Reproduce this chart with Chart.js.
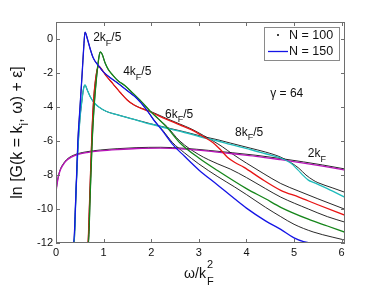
<!DOCTYPE html>
<html>
<head>
<meta charset="utf-8">
<script src="https://cdn.jsdelivr.net/npm/chart.js@4.4.0/dist/chart.umd.min.js"></script>
<style>
  html, body { margin: 0; padding: 0; background: #fff; }
  #wrap { width: 382px; height: 286px; }
</style>
</head>
<body>
<div id="wrap"><canvas id="c" width="382" height="286"></canvas></div>
<script>
/* ===== data ===== */
const xTicks = [0, 1, 2, 3, 4, 5, 6];
const yTicks = [0, -2, -4, -6, -8, -10, -12];

// N = 150 (coloured curves)
const k2_5_n150 = [[0,-12],[0.37,-12],[0.42,-9],[0.46,-6],[0.5,-4.2],[0.55,-2],[0.58,-0.6],[0.61,0.4],[0.66,0],[0.72,-0.6],[0.78,-1.1],[0.9,-1.6],[1.0,-1.95],[1.15,-2.3],[1.3,-2.6],[1.5,-3.05],[1.7,-3.5],[1.9,-4.15],[2.05,-4.75],[2.25,-5.45],[2.45,-6.2],[2.7,-6.9],[3.0,-7.7],[3.4,-8.6],[3.75,-9.4],[4.0,-9.95],[4.4,-10.7],[4.72,-11.2],[5.0,-11.7],[5.2,-11.92],[5.4,-12],[6.1,-12]];
const k4_5_n150 = [[0,-12],[0.68,-12],[0.72,-9],[0.76,-6],[0.8,-4],[0.85,-2.3],[0.9,-1.1],[0.93,-0.76],[0.97,-0.9],[1.03,-1.4],[1.1,-1.8],[1.2,-2.15],[1.3,-2.45],[1.45,-2.75],[1.62,-3.2],[1.8,-3.7],[1.98,-4.25],[2.15,-4.7],[2.33,-5.2],[2.6,-6.1],[3.0,-7.0],[3.4,-7.75],[4.0,-8.8],[4.4,-9.4],[4.72,-9.9],[5.3,-10.6],[5.7,-11.0],[6.1,-11.4]];
const k6_5_n150 = [[0,-12],[0.67,-12],[0.7,-10],[0.73,-7.5],[0.76,-5.2],[0.79,-3.6],[0.83,-2.4],[0.87,-1.75],[0.9,-1.6],[0.95,-1.75],[1.05,-2.15],[1.2,-2.65],[1.35,-3.15],[1.5,-3.6],[1.65,-3.9],[1.8,-4.1],[1.95,-4.25],[2.3,-4.7],[2.6,-5.05],[2.85,-5.35],[3.1,-5.75],[3.3,-6.1],[3.45,-6.5],[3.6,-6.95],[3.75,-7.25],[3.95,-7.55],[4.3,-8.2],[4.72,-8.9],[5.1,-9.3],[5.5,-9.75],[6.1,-10.4]];
const k8_5_n150 = [[0,-12],[0.38,-12],[0.42,-9],[0.46,-6.5],[0.5,-4.8],[0.55,-3.5],[0.58,-2.9],[0.61,-2.7],[0.65,-2.95],[0.72,-3.4],[0.8,-3.75],[0.9,-4.0],[1.05,-4.25],[1.28,-4.45],[1.6,-4.7],[1.98,-5.0],[2.33,-5.25],[2.7,-5.5],[3.03,-5.75],[3.4,-6.0],[3.66,-6.2],[4.08,-6.5],[4.4,-6.75],[4.72,-7.0],[4.93,-7.3],[5.08,-7.7],[5.2,-8.05],[5.3,-8.3],[5.42,-8.45],[5.7,-8.8],[6.1,-9.35]];
const k2_n150 = [[0,-9.0],[0.02,-8.6],[0.05,-8.1],[0.1,-7.65],[0.15,-7.4],[0.22,-7.15],[0.32,-6.95],[0.45,-6.8],[0.65,-6.68],[0.93,-6.58],[1.3,-6.5],[1.7,-6.44],[2.2,-6.42],[2.7,-6.48],[3.2,-6.6],[3.7,-6.75],[4.2,-6.9],[4.72,-7.1],[5.2,-7.3],[5.6,-7.48],[6.1,-7.73]];

// N = 100 (black curves)
const k2_5_n100 = [[0,-12],[0.37,-12],[0.42,-9],[0.46,-6],[0.5,-4.2],[0.55,-2],[0.58,-0.6],[0.61,0.4],[0.66,0],[0.72,-0.6],[0.78,-1.1],[0.9,-1.6],[1.0,-1.95],[1.15,-2.3],[1.3,-2.6],[1.5,-3.05],[1.7,-3.5],[1.9,-4.15],[2.05,-4.75],[2.25,-5.4],[2.45,-6.1],[2.7,-6.7],[3.0,-7.35],[3.4,-8.1],[3.75,-8.7],[4.0,-9.15],[4.4,-9.9],[4.72,-10.45],[5.0,-10.9],[5.4,-11.35],[5.8,-11.65],[6.1,-11.85]];
const k4_5_n100 = [[0,-12],[0.68,-12],[0.72,-9],[0.76,-6],[0.8,-4],[0.85,-2.3],[0.9,-1.1],[0.93,-0.76],[0.97,-0.9],[1.03,-1.4],[1.1,-1.8],[1.2,-2.15],[1.3,-2.45],[1.45,-2.75],[1.62,-3.2],[1.8,-3.7],[1.98,-4.25],[2.15,-4.7],[2.33,-5.15],[2.6,-6.0],[3.0,-6.8],[3.4,-7.35],[3.66,-7.65],[4.0,-8.15],[4.4,-8.8],[4.72,-9.3],[5.3,-10.0],[5.7,-10.45],[6.1,-10.8]];
const k6_5_n100 = [[0,-12],[0.67,-12],[0.7,-10],[0.73,-7.5],[0.76,-5.2],[0.79,-3.6],[0.83,-2.4],[0.87,-1.75],[0.9,-1.6],[0.95,-1.75],[1.05,-2.15],[1.2,-2.65],[1.35,-3.15],[1.5,-3.6],[1.65,-3.9],[1.8,-4.08],[1.95,-4.22],[2.3,-4.65],[2.6,-5.0],[2.85,-5.3],[3.1,-5.68],[3.3,-6.0],[3.5,-6.35],[3.7,-6.75],[4.0,-7.3],[4.35,-7.9],[4.72,-8.5],[5.1,-8.95],[5.5,-9.4],[6.1,-10.05]];
const k8_5_n100 = [[0,-12],[0.38,-12],[0.42,-9],[0.46,-6.5],[0.5,-4.8],[0.55,-3.5],[0.58,-2.9],[0.61,-2.7],[0.65,-2.95],[0.72,-3.4],[0.8,-3.75],[0.9,-4.0],[1.05,-4.25],[1.28,-4.45],[1.6,-4.7],[1.98,-4.98],[2.33,-5.22],[2.7,-5.46],[3.03,-5.7],[3.4,-5.93],[3.66,-6.12],[4.08,-6.42],[4.4,-6.65],[4.72,-6.95],[4.95,-7.3],[5.1,-7.6],[5.25,-8.0],[5.4,-8.3],[5.5,-8.45],[5.8,-8.75],[6.1,-9.05]];
const k2_n100 = [[0,-8.95],[0.02,-8.55],[0.05,-8.05],[0.1,-7.6],[0.15,-7.35],[0.22,-7.1],[0.32,-6.9],[0.45,-6.75],[0.65,-6.63],[0.93,-6.53],[1.3,-6.45],[1.7,-6.39],[2.2,-6.37],[2.7,-6.43],[3.2,-6.55],[3.7,-6.69],[4.2,-6.84],[4.72,-7.03],[5.2,-7.23],[5.6,-7.41],[6.1,-7.66]];

const curveLabels = ['2kF/5', '4kF/5', '6kF/5', '8kF/5', '2kF'];
const curveColors = ['#1414e6', '#15861a', '#e81414', '#1fbcbc', '#b812b8'];
const n150 = [k2_5_n150, k4_5_n150, k6_5_n150, k8_5_n150, k2_n150];
const n100 = [k2_5_n100, k4_5_n100, k6_5_n100, k8_5_n100, k2_n100];

/* ===== text helpers (sub/superscripts) ===== */
const FONT = '"Liberation Sans", Arial, Helvetica, sans-serif';

function rich(ctx, x, y, parts, size, draw = true) {
  let cx = x;
  for (const [t, m] of parts) {
    const fs = m ? Math.round(size * 0.78) : size;
    ctx.font = fs + 'px ' + FONT;
    const dy = m === 1 ? size * 0.4 : m === 2 ? -size * 0.45 : 0;
    if (draw) ctx.fillText(t, cx, y + dy);
    cx += ctx.measureText(t).width;
  }
  return cx - x;
}

// annotation texts and where they sit (data coordinates)
const notes = [
  { x: 0.78, y: -0.12, parts: [['2k', 0], ['F', 1], ['/5', 0]] },
  { x: 1.41, y: -2.1,  parts: [['4k', 0], ['F', 1], ['/5', 0]] },
  { x: 2.29, y: -4.62, parts: [['6k', 0], ['F', 1], ['/5', 0]] },
  { x: 3.76, y: -5.68, parts: [['8k', 0], ['F', 1], ['/5', 0]] },
  { x: 5.29, y: -6.97, parts: [['2k', 0], ['F', 1]] },
  { x: 4.5,  y: -3.4,  parts: [['γ = 64', 0]] },
];

/* ===== frame, ticks, labels, legend ===== */
const decor = {
  id: 'decor',
  afterDatasetsDraw(chart) {
    const { ctx, chartArea: a, scales: { x, y } } = chart;
    ctx.save();
    ctx.strokeStyle = '#6e6e6e';
    ctx.lineWidth = 1;
    ctx.strokeRect(a.left + 0.5, a.top + 0.5, a.right - a.left - 1, a.bottom - a.top - 1);
    ctx.beginPath();
    xTicks.forEach(v => {
      const px = Math.round(x.getPixelForValue(v)) + 0.5;
      ctx.moveTo(px, a.bottom); ctx.lineTo(px, a.bottom - 4);
      ctx.moveTo(px, a.top); ctx.lineTo(px, a.top + 4);
    });
    yTicks.forEach(v => {
      const py = Math.round(y.getPixelForValue(v)) + 0.5;
      ctx.moveTo(a.left, py); ctx.lineTo(a.left + 4, py);
      ctx.moveTo(a.right, py); ctx.lineTo(a.right - 4, py);
    });
    ctx.stroke();
    ctx.restore();
  },
  afterDraw(chart) {
    const { ctx, chartArea: a, scales: { x, y } } = chart;
    ctx.save();
    ctx.fillStyle = '#111';
    ctx.textBaseline = 'alphabetic';
    ctx.textAlign = 'left';

    notes.forEach(n => rich(ctx, x.getPixelForValue(n.x), y.getPixelForValue(n.y), n.parts, 12));

    // x title: ω/k with stacked F and 2
    ctx.font = '14px ' + FONT;
    const w0 = ctx.measureText('ω/k').width;
    const cx = (a.left + a.right) / 2 - 2;
    const sx = cx - (w0 + 7) / 2;
    ctx.fillText('ω/k', sx, 278);
    ctx.font = '11px ' + FONT;
    ctx.fillText('2', sx + w0 + 1, 268);
    ctx.fillText('F', sx + w0 + 1, 285);

    // y title, rotated
    const yParts = [['ln [G(k = k', 0], ['i', 1], [', ω) + ε]', 0]];
    ctx.translate(16, (a.top + a.bottom) / 2);
    ctx.rotate(-Math.PI / 2);
    const tw = rich(ctx, 0, 0, yParts, 16, false);
    rich(ctx, -tw / 2, 6, yParts, 16);
    ctx.setTransform(1, 0, 0, 1, 0, 0);

    // legend box
    const lx = 264, ly = 27, lw = 75, lh = 33;
    ctx.fillStyle = '#fff';
    ctx.fillRect(lx, ly, lw, lh);
    ctx.strokeStyle = '#8a8a8a';
    ctx.lineWidth = 1;
    ctx.strokeRect(lx + 0.5, ly + 0.5, lw, lh);
    ctx.fillStyle = '#000';
    ctx.beginPath();
    ctx.arc(lx + 14, ly + 8, 1, 0, Math.PI * 2);
    ctx.fill();
    ctx.strokeStyle = curveColors[0];
    ctx.lineWidth = 1.3;
    ctx.beginPath();
    ctx.moveTo(lx + 4, ly + 24.5); ctx.lineTo(lx + 24, ly + 24.5);
    ctx.stroke();
    ctx.fillStyle = '#111';
    ctx.font = '12.5px ' + FONT;
    ctx.textBaseline = 'middle';
    ctx.fillText('N = 100', lx + 25, ly + 9);
    ctx.fillText('N = 150', lx + 25, ly + 25);
    ctx.restore();
  },
};

/* ===== datasets ===== */
const pts = arr => arr.map(([px, py]) => ({ x: px, y: py }));
const datasets = [];
n150.forEach((d, i) => datasets.push({
  label: 'N = 150, ' + curveLabels[i],
  data: pts(d),
  borderColor: curveColors[i],
  borderWidth: 1.3,
  order: 0,
}));
n100.forEach((d, i) => datasets.push({
  label: 'N = 100, ' + curveLabels[i],
  data: pts(d),
  borderColor: '#111',
  borderWidth: 0.9,
  order: 1,
}));

const tickFont = { family: FONT, size: 11 };

new Chart(document.getElementById('c'), {
  type: 'line',
  data: { datasets },
  options: {
    responsive: false,
    animation: false,
    devicePixelRatio: 1,
    elements: {
      point: { radius: 0 },
      line: { cubicInterpolationMode: 'monotone', fill: false },
    },
    layout: { padding: { left: 0, right: 37, top: 22, bottom: 0 } },
    plugins: { legend: { display: false }, tooltip: { enabled: false } },
    scales: {
      x: {
        type: 'linear', min: 0, max: 6.07,
        grid: { display: false, drawTicks: false },
        border: { display: false },
        ticks: { color: '#111', font: tickFont, padding: 3, maxRotation: 0 },
        afterBuildTicks: s => { s.ticks = xTicks.map(v => ({ value: v })); },
        afterFit: s => { s.height = 43; },
      },
      y: {
        type: 'linear', min: -12, max: 1,
        grid: { display: false, drawTicks: false },
        border: { display: false },
        ticks: { color: '#111', font: tickFont, padding: 3 },
        afterBuildTicks: s => { s.ticks = yTicks.map(v => ({ value: v })); },
        afterFit: s => { s.width = 56; },
      },
    },
  },
  plugins: [decor],
});
</script>
</body>
</html>
